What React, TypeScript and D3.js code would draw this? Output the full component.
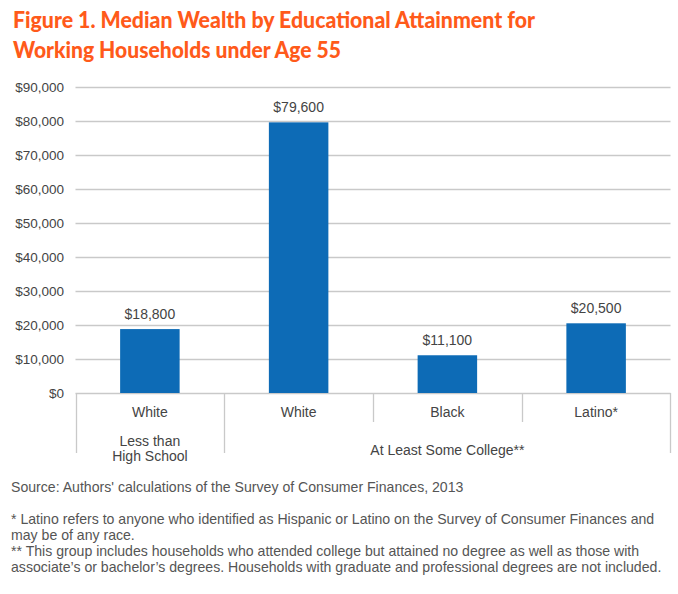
import React from "react";
import * as d3 from "d3";

const categories = ["White (LHS)", "White", "Black", "Latino*"];
const barLabels = ["White", "White", "Black", "Latino*"];
const values = [18800, 79600, 11100, 20500];
const valueLabels = ["$18,800", "$79,600", "$11,100", "$20,500"];
const yTicks = [0, 10000, 20000, 30000, 40000, 50000, 60000, 70000, 80000, 90000];
const titleLines = [
  "Figure 1. Median Wealth by Educational Attainment for",
  "Working Households under Age 55",
];
const footLines = [
  "* Latino refers to anyone who identified as Hispanic or Latino on the Survey of Consumer Finances and",
  "may be of any race.",
  "** This group includes households who attended college but attained no degree as well as those with",
  "associate\u2019s or bachelor\u2019s degrees. Households with graduate and professional degrees are not included.",
];
const sourceText = "Source: Authors' calculations of the Survey of Consumer Finances, 2013";

export default function App() {
  const W = 678, H = 594;
  const left = 75.5, right = 670.5, top = 87, bottom = 393;
  const x = d3.scaleBand<string>().domain(categories).range([left, right]).paddingInner(0.6).paddingOuter(0.3);
  const y = d3.scaleLinear().domain([0, 90000]).range([bottom, top]);
  const step = x.step();
  const fmt = d3.format("$,");
  const font = "'Liberation Sans', Arial, Helvetica, sans-serif";
  const textCol = "#444";
  const gridCol = "#c9c9c9";
  const bandEdges = categories.map((c) => (x(c) as number) - (step - x.bandwidth()) / 2);
  return (
    <svg width={W} height={H} style={{ position: "absolute", left: 0, top: 0, background: "#fff" }}>
      {titleLines.map((t, i) => (
        <text key={i} x={13} y={28 + i * 30} fill="#FF5A1A" fontFamily="Lato, 'Open Sans', sans-serif"
          fontWeight={900} fontSize={22.5} textLength={i === 0 ? 522 : 328} lengthAdjust="spacingAndGlyphs">{t}</text>
      ))}
      {yTicks.map((t) => (
        <g key={t}>
          <line x1={left} x2={right} y1={Math.round(y(t)) + 0.5} y2={Math.round(y(t)) + 0.5} stroke={gridCol} strokeWidth={1.3} />
          <text x={64} y={y(t) + 5} textAnchor="end" fontFamily={font} fontSize={13.5} fill={textCol}>{fmt(t)}</text>
        </g>
      ))}
      {categories.map((c, i) => (
        <g key={c}>
          <rect x={x(c)} width={x.bandwidth()} y={y(values[i])} height={bottom - y(values[i])} fill="#0D6BB6" />
          <text x={(x(c) as number) + x.bandwidth() / 2} y={y(values[i]) - 10} textAnchor="middle" fontFamily={font} fontSize={14} fill={textCol}>{valueLabels[i]}</text>
          <text x={(x(c) as number) + x.bandwidth() / 2} y={417} textAnchor="middle" fontFamily={font} fontSize={14} fill={textCol}>{barLabels[i]}</text>
        </g>
      ))}
      {bandEdges.map((e, i) => (
        <line key={i} x1={Math.round(e) + 0.5} x2={Math.round(e) + 0.5} y1={bottom} y2={i <= 1 ? 453 : 422} stroke={gridCol} strokeWidth={1.3} />
      ))}
      <line x1={right} x2={right} y1={bottom} y2={453} stroke={gridCol} strokeWidth={1.3} />
      <text x={(bandEdges[0] + bandEdges[1]) / 2} y={446} textAnchor="middle" fontFamily={font} fontSize={14} fill={textCol}>Less than</text>
      <text x={(bandEdges[0] + bandEdges[1]) / 2} y={461} textAnchor="middle" fontFamily={font} fontSize={14} fill={textCol}>High School</text>
      <text x={(bandEdges[1] + right) / 2} y={455} textAnchor="middle" fontFamily={font} fontSize={14} fill={textCol}>At Least Some College**</text>
      <text x={11} y={492} fontFamily={font} fontSize={14.1} fill="#555">{sourceText}</text>
      {footLines.map((t, i) => (
        <text key={i} x={11} y={524 + i * 16} fontFamily={font} fontSize={14.1} fill="#555">{t}</text>
      ))}
    </svg>
  );
}
